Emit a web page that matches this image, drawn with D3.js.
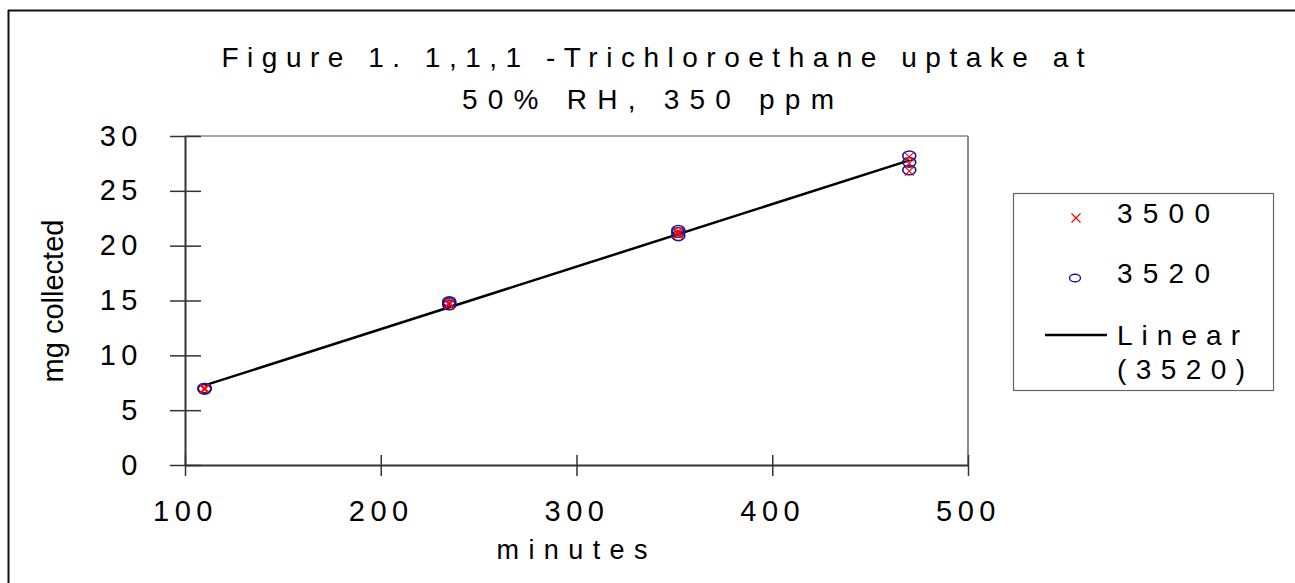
<!DOCTYPE html>
<html>
<head>
<meta charset="utf-8">
<script src="https://cdn.jsdelivr.net/npm/d3@7"></script>
<style>
  body { margin: 0; background: #fff; }
  text { font-family: "Liberation Sans", Arial, sans-serif; fill: #000; }
</style>
</head>
<body>
<div id="chart"></div>
<script>
// data
const xTicks = [100, 200, 300, 400, 500];
const yTicks = [0, 5, 10, 15, 20, 25, 30];
const minutes = [110, 110, 110, 235, 235, 235, 352, 352, 352, 470, 470, 470];
const mg3500 = [6.9, 7.0, 6.9, 14.7, 14.8, 14.6, 21.0, 21.3, 21.1, 26.8, 27.5, 28.1];
const mg3520 = [6.9, 7.0, 7.0, 14.6, 14.8, 14.9, 20.9, 21.2, 21.4, 26.9, 27.6, 28.2];
const titleLines = ["Figure 1. 1,1,1 -Trichloroethane uptake at", "50% RH, 350 ppm"];
const legendLabels = ["3500", "3520", "Linear", "(3520)"];

const W = 1295, H = 583;
const svg = d3.select('#chart').append('svg').attr('width', W).attr('height', H);

const x = d3.scaleLinear().domain([100, 500]).range([185, 968]);
const y = d3.scaleLinear().domain([0, 30]).range([465, 136]);

// outer frame (top + left only visible)
svg.append('line').attr('x1', 8).attr('x2', W).attr('y1', 10.5).attr('y2', 10.5)
  .style('stroke', '#111').style('stroke-width', 2);
svg.append('line').attr('x1', 8.5).attr('x2', 8.5).attr('y1', 10).attr('y2', H)
  .style('stroke', '#111').style('stroke-width', 2);

// title
svg.append('text').attr('x', 653).attr('y', 67).attr('text-anchor', 'middle')
  .attr('textLength', 863).attr('lengthAdjust', 'spacing')
  .style('font-size', '28px').text(titleLines[0]);
svg.append('text').attr('x', 648).attr('y', 109).attr('text-anchor', 'middle')
  .attr('textLength', 372).attr('lengthAdjust', 'spacing')
  .style('font-size', '28px').text(titleLines[1]);

// plot border top + right (gray)
svg.append('line').attr('x1', x(100)).attr('x2', x(500)).attr('y1', y(30)).attr('y2', y(30))
  .style('stroke', '#8a8a8a').style('stroke-width', 1.5);
svg.append('line').attr('x1', x(500)).attr('x2', x(500)).attr('y1', y(30)).attr('y2', y(0))
  .style('stroke', '#8a8a8a').style('stroke-width', 2);

// axes
const gx = svg.append('g').attr('transform', `translate(0,${y(0)})`)
  .call(d3.axisBottom(x).tickValues(xTicks).tickSize(11).tickSizeOuter(0).tickFormat(d3.format('d')));
gx.select('.domain').style('stroke', '#333').style('stroke-width', 2);
gx.selectAll('.tick line').attr('y1', -10).style('stroke', '#333').style('stroke-width', 1.5);
gx.selectAll('.tick text').attr('y', 56).attr('dy', 0)
  .style('font-size', '29px').style('letter-spacing', '5.5px')
  .style('font-family', '"Liberation Sans", Arial, sans-serif').style('fill', '#000');

const gy = svg.append('g').attr('transform', `translate(${x(100)},0)`)
  .call(d3.axisLeft(y).tickValues(yTicks).tickSize(15).tickSizeOuter(0));
gy.select('.domain').style('stroke', '#333').style('stroke-width', 2);
gy.selectAll('.tick line').attr('x1', 16).style('stroke', '#333').style('stroke-width', 1.5);
gy.selectAll('.tick text').attr('x', -42).attr('dy', 9)
  .style('font-size', '29px').style('letter-spacing', '5.5px')
  .style('font-family', '"Liberation Sans", Arial, sans-serif').style('fill', '#000');

// axis titles
svg.append('text').attr('x', 572).attr('y', 559).attr('text-anchor', 'middle')
  .attr('textLength', 151).attr('lengthAdjust', 'spacing')
  .style('font-size', '27px').text('minutes');
svg.append('text').attr('transform', 'translate(63,301) rotate(-90)').attr('text-anchor', 'middle')
  .style('font-size', '29px').text('mg collected');

// linear fit of 3520
const mx = d3.mean(minutes), my = d3.mean(mg3520);
const slope = d3.sum(minutes, (d, i) => (d - mx) * (mg3520[i] - my)) / d3.sum(minutes, d => (d - mx) * (d - mx));
const icpt = my - slope * mx;
const fitX = d3.extent(minutes);
svg.append('path')
  .datum(fitX)
  .attr('d', d3.line().x(d => x(d)).y(d => y(icpt + slope * d)))
  .style('fill', 'none').style('stroke', '#000').style('stroke-width', 2.5);

// markers
function cross(g, cx, cy, s) {
  g.append('path').attr('d', `M${cx - s},${cy - s}L${cx + s},${cy + s}M${cx - s},${cy + s}L${cx + s},${cy - s}`)
    .style('stroke', '#ff0000').style('stroke-width', 1.2).style('fill', 'none');
}
const pts = svg.append('g');
minutes.forEach((m, i) => {
  pts.append('ellipse').attr('cx', x(m)).attr('cy', y(mg3520[i])).attr('rx', 6.5).attr('ry', 4.8)
    .style('fill', 'none').style('stroke', '#1a1a8c').style('stroke-width', 1.6);
});
minutes.forEach((m, i) => cross(pts, x(m), y(mg3500[i]), 4.5));

// legend
const lg = svg.append('g');
lg.append('rect').attr('x', 1013.5).attr('y', 193.5).attr('width', 260).attr('height', 197)
  .style('fill', '#fff').style('stroke', '#666').style('stroke-width', 1.2);
cross(lg, 1076, 218, 4.5);
lg.append('ellipse').attr('cx', 1075).attr('cy', 278).attr('rx', 5.5).attr('ry', 3.8)
  .style('fill', 'none').style('stroke', '#1a1a8c').style('stroke-width', 1.4);
lg.append('line').attr('x1', 1045).attr('x2', 1107).attr('y1', 335).attr('y2', 335)
  .style('stroke', '#000').style('stroke-width', 2.5);
const lgText = [
  {t: legendLabels[0], y: 223, w: 93},
  {t: legendLabels[1], y: 283, w: 93},
  {t: legendLabels[2], y: 345, w: 123},
  {t: legendLabels[3], y: 379, w: 128}
];
lg.selectAll('text.lg').data(lgText).enter().append('text')
  .attr('class', 'lg')
  .attr('x', 1117).attr('y', d => d.y)
  .attr('textLength', d => d.w).attr('lengthAdjust', 'spacing')
  .style('font-size', '28px').text(d => d.t);
</script>
</body>
</html>
